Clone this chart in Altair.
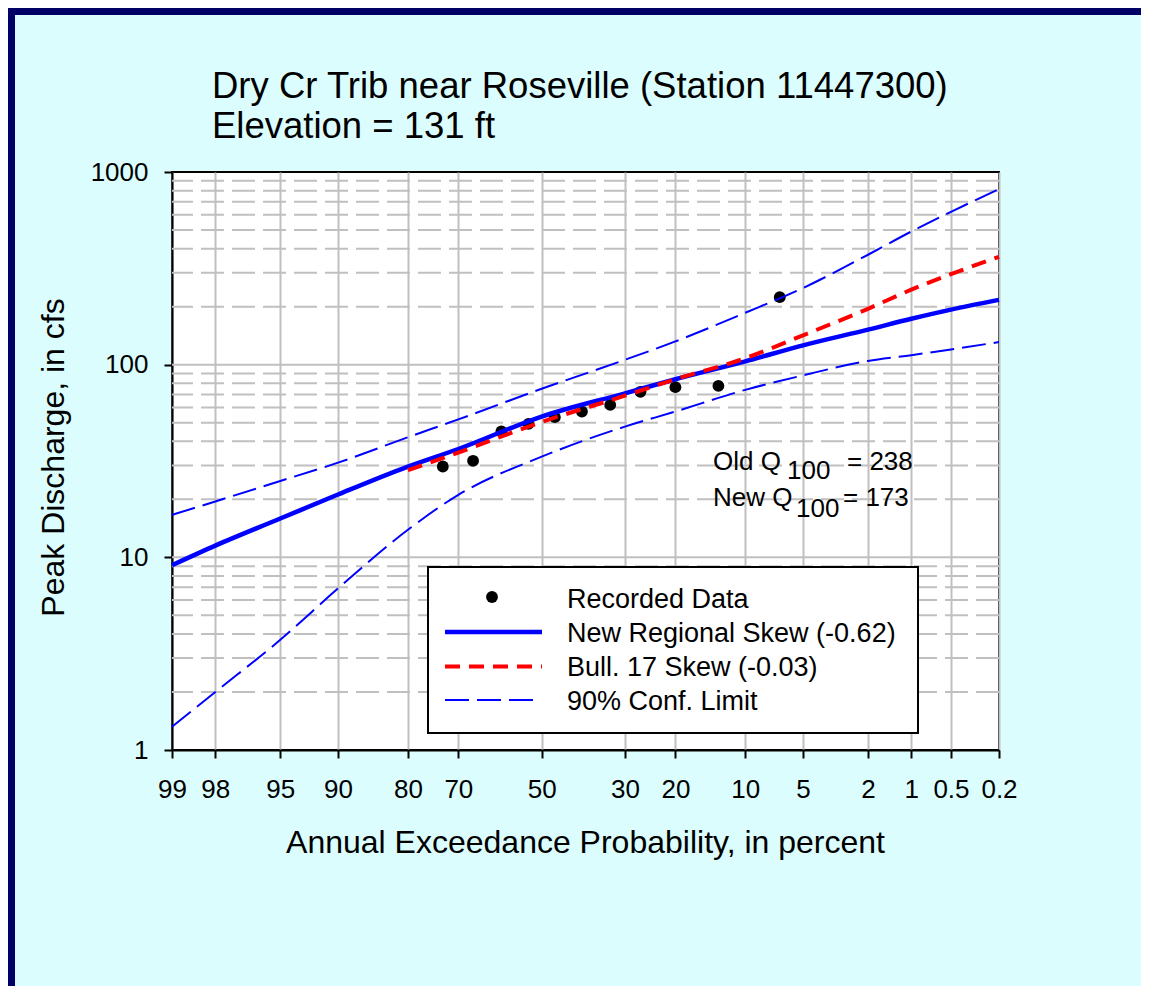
import altair as alt
import pandas as pd
from statistics import NormalDist

# ---------------- data ----------------
title_lines = ["Dry Cr Trib near Roseville (Station 11447300)", "Elevation = 131 ft"]
x_title = "Annual Exceedance Probability, in percent"
y_title = "Peak Discharge, in cfs"

tick_probs = [99, 98, 95, 90, 80, 70, 50, 30, 20, 10, 5, 2, 1, 0.5, 0.2]
y_ticks = [1, 10, 100, 1000]
grid_major = [10, 100]
grid_minor = [2, 3, 4, 5, 6, 7, 8, 9,
              20, 30, 40, 50, 60, 70, 80, 90,
              200, 300, 400, 500, 600, 700, 800, 900]

curve_probs = [99, 98, 95, 90, 80, 70, 50, 30, 20, 10, 5, 2, 1, 0.5, 0.2]
new_skew_q = [9.1, 11.5, 15.9, 21.2, 29.6, 36.5, 53.8, 71, 84, 104, 126, 152, 173, 193, 217]
upper_q = [16.6, 19.5, 24.9, 31, 42, 52, 75, 106, 132, 186, 250, 372, 491, 621, 815]
lower_q = [1.32, 2.0, 3.73, 6.9, 13.9, 21.1, 33.3, 47.7, 57.1, 74, 88, 104.6, 112, 120, 131]

bull17_probs = [80, 70, 50, 30, 20, 10, 5, 2, 1, 0.5, 0.2]
bull17_q = [28.3, 35.0, 50.4, 69, 84, 108, 142, 195, 245, 295, 363]

rec_probs = [73.3, 66.7, 60.0, 53.3, 46.7, 40.0, 33.3, 26.7, 20.0, 13.3, 6.7]
rec_q = [29.6, 31.7, 45.0, 49.3, 53.4, 57.1, 61.8, 72.3, 76.4, 77.6, 224]

legend_labels = ["Recorded Data", "New Regional Skew (-0.62)",
                 "Bull. 17 Skew (-0.03)", "90% Conf. Limit"]
q100_old = "238"
q100_new = "173"

# ---------------- styling ----------------
FONT = "Liberation Sans"
BG = "#dbfdfd"
NAVY = "#000066"
BLUE = "#0000ff"
RED = "#ff0000"
GRID = "#c0c0c0"
W, H = 827, 578
PAD = {"left": 164, "top": 164, "right": 142, "bottom": 236}

nd = NormalDist()
z_ticks = [nd.inv_cdf(1 - p / 100) for p in tick_probs]

xscale = alt.Scale(domain=[z_ticks[0], z_ticks[-1]], nice=False, zero=False)
yscale = alt.Scale(type="log", domain=[1, 1000], nice=False)

x_axis = alt.Axis(
    values=z_ticks,
    labelExpr="round(1000*(1-cumulativeNormal(datum.value)))/10",
    grid=True, gridColor=GRID, gridWidth=2,
    domainColor="black", domainWidth=2,
    tickColor="black", tickWidth=2, tickSize=8,
    labelFont=FONT, labelFontSize=26, labelColor="black",
    labelBaseline="alphabetic", labelPadding=39,
    labelOverlap=False, labelFlush=False, labelBound=False,
    title=x_title, titleFont=FONT, titleFontSize=32, titleFontWeight="normal",
    titleColor="black", titleX=413, titleY=102, titleAlign="center",
    titleBaseline="alphabetic", titleAnchor="middle",
)
y_axis = alt.Axis(
    values=y_ticks, format="d",
    grid=False,
    domainColor="black", domainWidth=2,
    tickColor="black", tickWidth=2, tickSize=8,
    labelFont=FONT, labelFontSize=26, labelColor="black",
    labelPadding=16, labelOverlap=False, labelFlush=False,
    title=y_title, titleFont=FONT, titleFontSize=32, titleFontWeight="normal",
    titleColor="black", titleAngle=270, titleX=-109, titleY=285,
    titleAlign="center", titleBaseline="alphabetic",
)

ZCALC = "quantileNormal(1 - datum.p / 100)"


def xenc():
    return alt.X("z:Q", scale=xscale, axis=x_axis)


def yenc(field):
    return alt.Y(f"{field}:Q", scale=yscale, axis=y_axis)


one = pd.DataFrame({"a": [0]})


def txt(text, x, y, size=26, align="left", baseline="alphabetic"):
    return alt.Chart(one).mark_text(
        text=text, font=FONT, fontSize=size, color="black",
        align=align, baseline=baseline
    ).encode(x=alt.value(x), y=alt.value(y))


# grid lines
minor = alt.Chart(pd.DataFrame({"v": grid_minor})).mark_rule(
    color=GRID, strokeWidth=2, strokeDash=[23, 8]
).encode(y=yenc("v"))
major = alt.Chart(pd.DataFrame({"v": grid_major})).mark_rule(
    color=GRID, strokeWidth=2
).encode(y=yenc("v"))

curves = pd.DataFrame({"p": curve_probs, "new": new_skew_q,
                       "up": upper_q, "lo": lower_q})
bull = pd.DataFrame({"p": bull17_probs, "q": bull17_q})
rec = pd.DataFrame({"p": rec_probs, "q": rec_q})

points = alt.Chart(rec).transform_calculate(z=ZCALC).mark_point(
    filled=True, color="black", size=140, opacity=1
).encode(x=xenc(), y=yenc("q"))

new_line = alt.Chart(curves).transform_calculate(z=ZCALC).mark_line(
    color=BLUE, strokeWidth=4.5, interpolate="monotone"
).encode(x=xenc(), y=yenc("new"), order="z:Q")

bull_line = alt.Chart(bull).transform_calculate(z=ZCALC).mark_line(
    color=RED, strokeWidth=4, strokeDash=[15, 9], interpolate="monotone"
).encode(x=xenc(), y=yenc("q"), order="z:Q")

up_line = alt.Chart(curves).transform_calculate(z=ZCALC).mark_line(
    color=BLUE, strokeWidth=2, strokeDash=[24, 8], interpolate="monotone"
).encode(x=xenc(), y=yenc("up"), order="z:Q")

lo_line = alt.Chart(curves).transform_calculate(z=ZCALC).mark_line(
    color=BLUE, strokeWidth=2, strokeDash=[24, 8], interpolate="monotone"
).encode(x=xenc(), y=yenc("lo"), order="z:Q")

# Q100 annotation
annot = [
    txt("Old Q", 541, 298), txt("100", 615, 307), txt("=  " + q100_old, 675, 298),
    txt("New Q", 541, 334), txt("100", 624, 345), txt("=  " + q100_new, 671, 334),
]

# legend (drawn by hand)
leg_box = alt.Chart(one).mark_rect(fill="white", stroke="black", strokeWidth=2).encode(
    x=alt.value(256), x2=alt.value(746), y=alt.value(395), y2=alt.value(561)
)
leg_pt = alt.Chart(one).mark_point(filled=True, color="black", size=140, opacity=1).encode(
    x=alt.value(320), y=alt.value(425)
)
leg_new = alt.Chart(one).mark_rule(color=BLUE, strokeWidth=4.5).encode(
    x=alt.value(273), x2=alt.value(370), y=alt.value(460)
)
leg_bull = alt.Chart(one).mark_rule(color=RED, strokeWidth=4, strokeDash=[15, 9]).encode(
    x=alt.value(273), x2=alt.value(370), y=alt.value(494.5)
)
leg_conf = alt.Chart(one).mark_rule(color=BLUE, strokeWidth=2, strokeDash=[24, 8]).encode(
    x=alt.value(273), x2=alt.value(363), y=alt.value(528)
)
leg_text = [txt(lbl, 395, yy, size=27) for lbl, yy in
            zip(legend_labels, [435.5, 469.5, 503.5, 537.5])]

# title
title = [txt(title_lines[0], 40, -74, size=36.5), txt(title_lines[1], 40, -34, size=36.5)]

# navy frame strips (top & left)
navy_top = alt.Chart(one).mark_rect(color=NAVY).encode(
    x=alt.value(-164), x2=alt.value(W + 142), y=alt.value(-164), y2=alt.value(-157)
)
navy_left = alt.Chart(one).mark_rect(color=NAVY).encode(
    x=alt.value(-164), x2=alt.value(-157), y=alt.value(-164), y2=alt.value(H + 236)
)

chart = alt.layer(
    minor, major, points, new_line, bull_line, up_line, lo_line,
    *annot, leg_box, leg_pt, leg_new, leg_bull, leg_conf, *leg_text,
    *title, navy_top, navy_left
).properties(
    width=W, height=H, background=BG, padding=PAD,
    autosize=alt.AutoSizeParams(type="none"),
).configure_view(fill="white", stroke="black", strokeWidth=2)

chart.save("out.html", embed_options={"renderer": "svg", "actions": False})
